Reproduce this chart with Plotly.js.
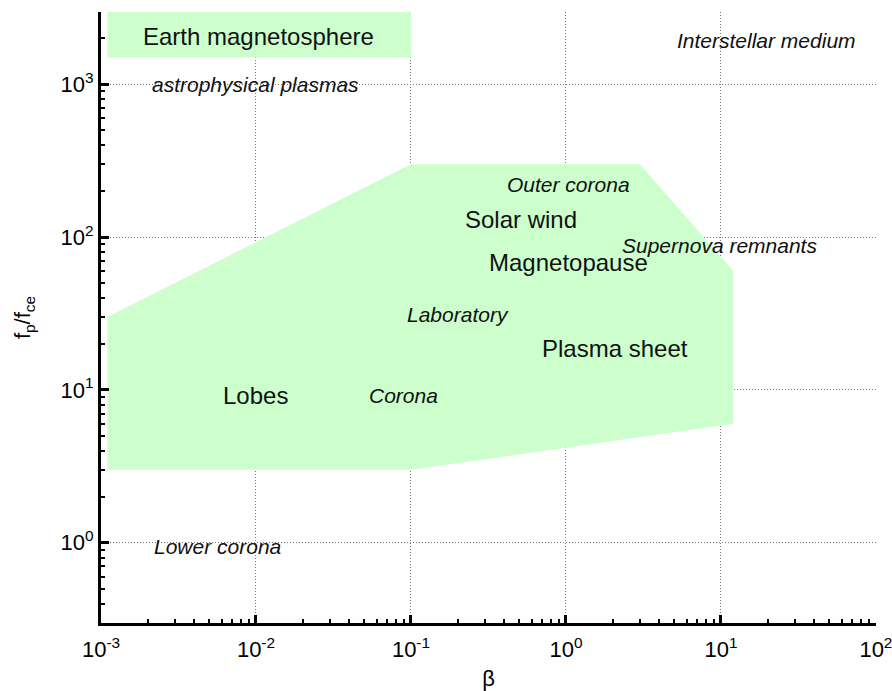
<!DOCTYPE html>
<html>
<head>
<meta charset="utf-8">
<script src="https://cdn.plot.ly/plotly-3.0.1.min.js"></script>
<style>
  html, body { margin: 0; padding: 0; background: #fff; }
  #chart { width: 892px; height: 691px; }
</style>
</head>
<body>
<div id="chart"></div>
<script>
// Parameter-space region (beta vs fp/fce) covered by the plasma regimes
const regionBeta = [0.0011, 0.1, 3, 12, 12, 0.1, 0.0011];
const regionRatio = [30, 300, 300, 60, 6, 3, 3];

// Label box for the Earth magnetosphere (upper-left corner)
const boxBeta = [0.0011, 0.1, 0.1, 0.0011];
const boxRatio = [1500, 1500, 3000, 3000];

// Regime names drawn upright (Earth magnetosphere family)
const earthNames = ['Earth magnetosphere', 'Solar wind', 'Magnetopause', 'Plasma sheet', 'Lobes'];
const earthBeta = [0.0104, 0.513, 1.045, 2.08, 0.00986];
const earthRatio = [2060, 131, 68.5, 18.75, 9.25];

// Regime names drawn in italics (astrophysical plasmas family)
const astroNames = ['astrophysical plasmas', 'Interstellar medium', 'Outer corona', 'Supernova remnants',
                    'Laboratory', 'Corona', 'Lower corona'];
const astroBeta = [0.01, 19.8, 1.04, 9.86, 0.2, 0.0895, 0.00565];
const astroRatio = [1000, 1940, 222, 88.5, 31.3, 9.25, 0.94];

// Decade ticks
const xTickVals = [0.001, 0.01, 0.1, 1, 10, 100];
const xTickText = ['10<sup>-3</sup>', '10<sup>-2</sup>', '10<sup>-1</sup>', '10<sup>0</sup>', '10<sup>1</sup>', '10<sup>2</sup>'];
const yTickVals = [1, 10, 100, 1000];
const yTickText = ['10<sup>0</sup>', '10<sup>1</sup>', '10<sup>2</sup>', '10<sup>3</sup>'];

// Minor ticks at 2..9 within each decade
function minorTicks(decades) {
  const out = [];
  decades.forEach(d => { for (let m = 2; m <= 9; m++) out.push(m * d); });
  return out;
}

const FONT = 'Arial, "Liberation Sans", Helvetica, sans-serif';
const GREEN = '#ccffcc';

const traces = [
  {
    x: regionBeta, y: regionRatio, type: 'scatter', mode: 'lines',
    fill: 'toself', fillcolor: GREEN, line: { width: 0, color: GREEN },
    hoverinfo: 'skip', showlegend: false
  },
  {
    x: boxBeta, y: boxRatio, type: 'scatter', mode: 'lines',
    fill: 'toself', fillcolor: GREEN, line: { width: 0, color: GREEN },
    hoverinfo: 'skip', showlegend: false
  }
];

const annotations = [];
earthNames.forEach((t, i) => annotations.push({
  text: t, x: Math.log10(earthBeta[i]), y: Math.log10(earthRatio[i]),
  xref: 'x', yref: 'y', showarrow: false, xanchor: 'center', yanchor: 'middle',
  font: { family: FONT, size: 24, color: '#111' }
}));
astroNames.forEach((t, i) => annotations.push({
  text: t, x: Math.log10(astroBeta[i]), y: Math.log10(astroRatio[i]),
  xref: 'x', yref: 'y', showarrow: false, xanchor: 'center', yanchor: 'middle',
  font: { family: FONT, size: 21, color: '#111', style: 'italic' }
}));

const axisCommon = {
  type: 'log',
  showline: true, linecolor: '#000', linewidth: 3,
  mirror: false,
  ticks: 'inside', ticklen: 8, tickwidth: 3, tickcolor: '#000',
  showgrid: true, gridcolor: '#777', gridwidth: 1, griddash: '1px,2px',
  zeroline: false,
  tickmode: 'array',
  tickfont: { family: FONT, size: 22, color: '#000' },
  ticklabeloverflow: 'allow',
  automargin: false
};

const layout = {
  width: 892, height: 691,
  margin: { l: 101, r: 16, t: 12, b: 68 },
  paper_bgcolor: '#fff', plot_bgcolor: '#fff',
  showlegend: false,
  xaxis: Object.assign({}, axisCommon, {
    range: [-3, 2.0005],
    tickvals: xTickVals, ticktext: xTickText,
    ticklabelstandoff: 5,
    minor: { tickmode: 'array', tickvals: minorTicks([0.001, 0.01, 0.1, 1, 10]),
             ticks: 'inside', ticklen: 4, tickwidth: 2, tickcolor: '#000', showgrid: false },
    title: { text: 'β', font: { family: FONT, size: 22, color: '#000' }, standoff: 12 }
  }),
  yaxis: Object.assign({}, axisCommon, {
    range: [-0.525, 3.473],
    tickvals: yTickVals, ticktext: yTickText,
    minor: { tickmode: 'array', tickvals: minorTicks([0.1, 1, 10, 100, 1000]),
             ticks: 'inside', ticklen: 4, tickwidth: 2, tickcolor: '#000', showgrid: false },
    title: { text: 'f<sub>p</sub>/f<sub>ce</sub>', font: { family: FONT, size: 22, color: '#000' }, standoff: 24 }
  }),
  annotations: annotations
};

Plotly.newPlot('chart', traces, layout, { displayModeBar: false, staticPlot: true });
</script>
</body>
</html>
